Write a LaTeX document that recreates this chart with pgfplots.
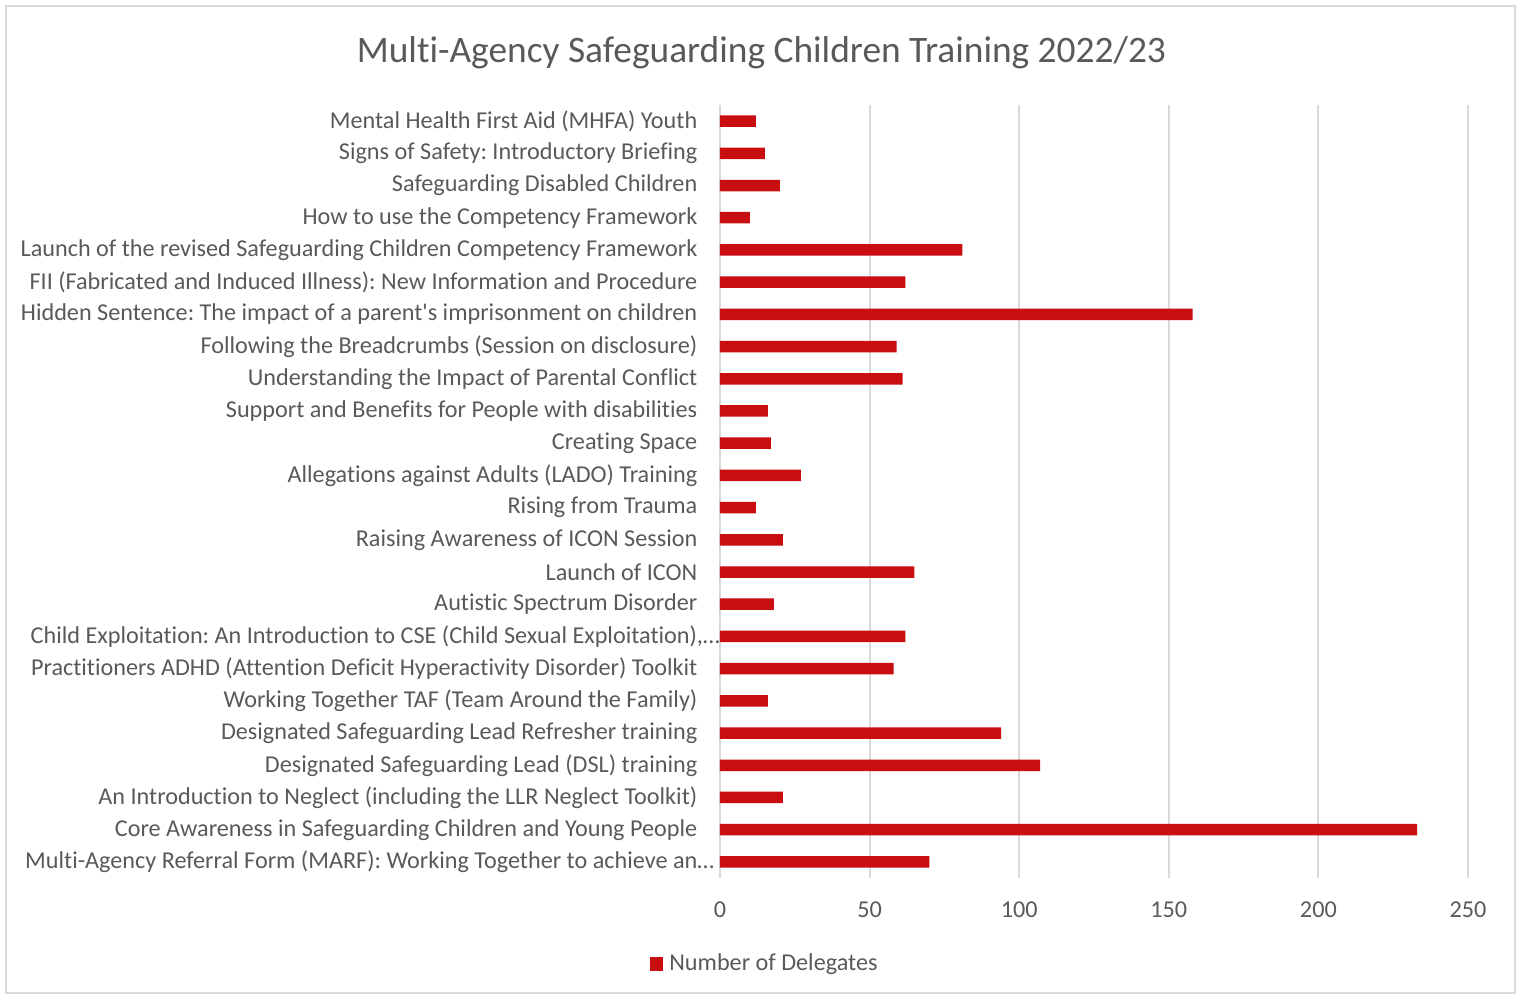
\documentclass[border=0pt]{standalone}
\usepackage{fontspec}
\setmainfont{Carlito}[Ligatures={TeXOff,NoCommon}]
\usepackage{pgfplots}
\pgfplotsset{compat=1.18}
\definecolor{barred}{RGB}{200,14,17}
\definecolor{txtgray}{HTML}{595959}
\definecolor{gridgray}{HTML}{D9D9D9}
\frenchspacing

% participants per course, bottom row first
\pgfplotstableread{
idx delegates
0 70
1 233
2 21
3 107
4 94
5 16
6 58
7 62
8 18
9 65
10 21
11 12
12 27
13 17
14 16
15 61
16 59
17 158
18 62
19 81
20 10
21 20
22 15
23 12
}\delegates

\begin{document}
\begin{tikzpicture}
\useasboundingbox (-360pt,-59pt) rectangle (400.5pt,439pt);
\begin{axis}[
  at={(0pt,0pt)}, anchor=south west,
  scale only axis, width=374pt, height=386.5pt,
  xbar, bar width=5.75pt,
  xmin=0, xmax=250, ymin=-0.5, ymax=23.5,
  xtick={0,50,...,250},
  ytick={0,...,23},
  yticklabels={
    {Multi-Agency Referral Form (MARF): Working Together to achieve an\rlap{…}},
    {Core Awareness in Safeguarding Children and Young People},
    {An Introduction to Neglect (including the LLR Neglect Toolkit)},
    {Designated Safeguarding Lead (DSL) training},
    {Designated Safeguarding Lead Refresher training},
    {Working Together TAF (Team Around the Family)},
    {Practitioners ADHD (Attention Deficit Hyperactivity Disorder) Toolkit},
    {Child Exploitation: An Introduction to CSE (Child Sexual Exploitation)\rlap{,…}},
    {Autistic Spectrum Disorder},
    {Launch of ICON},
    {Raising Awareness of ICON Session},
    {Rising from Trauma},
    {Allegations against Adults (LADO) Training},
    {Creating Space},
    {Support and Benefits for People with disabilities},
    {Understanding the Impact of Parental Conflict},
    {Following the Breadcrumbs (Session on disclosure)},
    {Hidden Sentence: The impact of a parent's imprisonment on children},
    {FII (Fabricated and Induced Illness): New Information and Procedure},
    {Launch of the revised Safeguarding Children Competency Framework},
    {How to use the Competency Framework},
    {Safeguarding Disabled Children},
    {Signs of Safety: Introductory Briefing},
    {Mental Health First Aid (MHFA) Youth}
  },
  axis lines=left,
  axis line style={draw=none},
  tick style={draw=none},
  xmajorgrids, grid style={gridgray, line width=1pt},
  tick label style={inner sep=0pt, text=txtgray, font=\fontsize{12.1}{14}\selectfont},
  xticklabel style={anchor=north},
  yticklabel style={anchor=east},
  xticklabel shift=9.5pt,
  yticklabel shift=9pt,
  /pgf/number format/assume math mode=true,
  legend style={at={(axis description cs:0.061,-0.111)}, anchor=center,
    draw=none, fill=none, font=\fontsize{12.1}{14}\selectfont, text=txtgray,
    inner sep=0pt},
  legend image code/.code={\fill[barred] (0pt,-3.4pt) rectangle (6.8pt,3.4pt);},
]
\addplot[fill=barred, draw=none] table[x=delegates, y=idx] {\delegates};
\legend{\hspace{1pt}Number of Delegates}
\end{axis}
\node[text=txtgray, font=\fontsize{18.7}{22}\selectfont] at (20.75pt,412.5pt)
  {Multi-Agency Safeguarding Children Training 2022/23};
\draw[gridgray, line width=1pt] (-357pt,-57.5pt) rectangle (397.5pt,436pt);
\end{tikzpicture}
\end{document}
